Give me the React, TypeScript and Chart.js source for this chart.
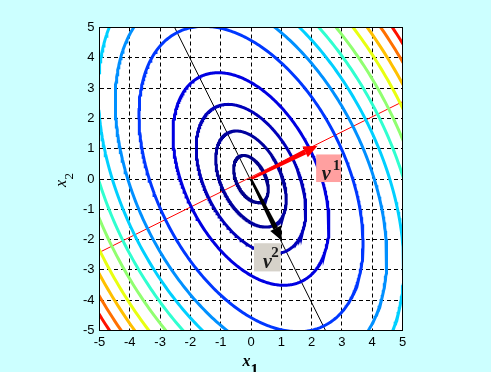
import React, { useEffect, useRef } from 'react';
import { Chart, registerables } from 'chart.js';

Chart.register(...registerables);

// ---- data ----
const axisTicks = [-5, -4, -3, -2, -1, 0, 1, 2, 3, 4, 5];
// contour levels of f(x) = x' A x, A having eigenvalues 3 (along v1) and 1 (along v2)
const contourLevels = [0.7, 2.9, 7.0, 14.2, 29.3, 43, 54.5, 66, 78, 91.5, 104, 117, 129];
const contourColors = [
  '#00008c', '#00009e', '#0000ba', '#0000e2', '#0038ff', '#0090ff', '#00d0ff',
  '#30ffd0', '#90ff70', '#e8ff10', '#ffc000', '#ff7000', '#ff1000',
];
const eigenvalues = [3, 1];
const eigenvector1 = [2, 1];
const eigenvector2 = [1, -2];
const redLineEnds = [[-5, -2.42], [5, 2.55]];
const blackLineEnds = [[-2.52, 5], [2.46, -5]];
const arrow1Tip = [2.2, 1.1];
const arrow2Tip = [1.02, -2.04];
const labelTexts = ['ν', 'ν'];
const labelSupers = ['1', '2'];

// ---- annotation placement (data coords) & styles ----
const labelBoxes = [
  { x0: 2.15, x1: 2.97, y0: 0.81, y1: -0.1, fill: '#ffa0a0', nuDx: 5.7, nuDy: -1.7, supDx: 16.7, supDy: 15.3 },
  { x0: 0.1, x1: 0.98, y0: -2.12, y1: -3.05, fill: '#d6d2ca', nuDx: 9.0, nuDy: -3.3, supDx: 17.3, supDy: 14.0 },
];

function unit(v: number[]) {
  const l = Math.hypot(v[0], v[1]);
  return [v[0] / l, v[1] / l];
}

function ellipsePoints(level: number) {
  const u1 = unit(eigenvector1);
  const u2 = unit(eigenvector2);
  const a1 = Math.sqrt(level / eigenvalues[0]);
  const a2 = Math.sqrt(level / eigenvalues[1]);
  const pts: { x: number; y: number }[] = [];
  const N = 400;
  for (let i = 0; i <= N; i++) {
    const t = (i / N) * Math.PI * 2;
    const c = Math.cos(t) * a1;
    const s = Math.sin(t) * a2;
    pts.push({ x: c * u1[0] + s * u2[0], y: c * u1[1] + s * u2[1] });
  }
  return pts;
}

function drawArrow(ctx: CanvasRenderingContext2D, x0: number, y0: number, x1: number, y1: number, color: string) {
  const dx = x1 - x0, dy = y1 - y0;
  const L = Math.hypot(dx, dy);
  const ux = dx / L, uy = dy / L;
  const px = -uy, py = ux;
  const headLen = 14, headHalf = 6, w0 = 1.1, w1 = 2.6;
  const bx = x1 - ux * headLen, by = y1 - uy * headLen;
  ctx.save();
  ctx.fillStyle = color;
  ctx.beginPath();
  ctx.moveTo(x0 + px * w0, y0 + py * w0);
  ctx.lineTo(bx + px * w1, by + py * w1);
  ctx.lineTo(bx - px * w1, by - py * w1);
  ctx.lineTo(x0 - px * w0, y0 - py * w0);
  ctx.closePath();
  ctx.fill();
  ctx.beginPath();
  ctx.moveTo(x1, y1);
  ctx.lineTo(bx + px * headHalf, by + py * headHalf);
  ctx.lineTo(bx - px * headHalf, by - py * headHalf);
  ctx.closePath();
  ctx.fill();
  ctx.restore();
}

const decorPlugin = {
  id: 'decor',
  beforeDraw(chart: any) {
    const { ctx, chartArea: a } = chart;
    ctx.save();
    ctx.fillStyle = '#ffffff';
    ctx.fillRect(a.left, a.top, a.right - a.left, a.bottom - a.top);
    ctx.restore();
  },
  afterDatasetsDraw(chart: any) {
    const { ctx, chartArea: a, scales } = chart;
    const X = (v: number) => scales.x.getPixelForValue(v);
    const Y = (v: number) => scales.y.getPixelForValue(v);
    drawArrow(ctx, X(0), Y(0), X(arrow1Tip[0]), Y(arrow1Tip[1]), '#ff0000');
    drawArrow(ctx, X(0), Y(0), X(arrow2Tip[0]), Y(arrow2Tip[1]), '#000000');

    labelBoxes.forEach((b, i) => {
      const l = X(b.x0), r = X(b.x1), t = Y(b.y0), bt = Y(b.y1);
      ctx.save();
      ctx.fillStyle = b.fill;
      ctx.fillRect(l, t, r - l, bt - t);
      ctx.fillStyle = '#1a1a1a';
      ctx.textBaseline = 'alphabetic';
      ctx.textAlign = 'left';
      ctx.font = "bold italic 20px 'Liberation Serif', 'DejaVu Serif', serif";
      ctx.fillText(labelTexts[i], l + b.nuDx, bt + b.nuDy);
      ctx.font = "bold 15px 'Liberation Serif', 'DejaVu Serif', serif";
      ctx.fillText(labelSupers[i], l + b.supDx, t + b.supDy);
      ctx.restore();
    });

    ctx.save();
    ctx.strokeStyle = '#000';
    ctx.lineWidth = 1;
    ctx.strokeRect(a.left, a.top, a.right - a.left, a.bottom - a.top);
    ctx.restore();
  },
  afterDraw(chart: any) {
    const { ctx } = chart;
    ctx.save();
    ctx.fillStyle = '#000';
    ctx.textAlign = 'left';
    ctx.textBaseline = 'alphabetic';
    // x title
    ctx.font = "bold italic 16px 'Liberation Serif', 'DejaVu Serif', serif";
    ctx.fillText('x', 242.5, 366);
    ctx.font = "bold 16px 'Liberation Serif', 'DejaVu Serif', serif";
    ctx.fillText('1', 250.5, 375);
    // y title
    ctx.translate(66, 187);
    ctx.rotate(-Math.PI / 2);
    ctx.font = "italic 16px 'Liberation Serif', 'DejaVu Serif', serif";
    ctx.fillText('x', 0, 0);
    ctx.font = "13px 'Liberation Serif', 'DejaVu Serif', serif";
    ctx.fillText('2', 7.5, 7);
    ctx.restore();
  },
};

export default function App() {
  const ref = useRef<HTMLCanvasElement>(null);
  useEffect(() => {
    document.body.style.margin = '0';
    const datasets: any[] = contourLevels.map((k, i) => ({
      data: ellipsePoints(k),
      borderColor: contourColors[i],
      backgroundColor: contourColors[i],
      borderWidth: 3,
      showLine: true,
      pointRadius: 0,
      tension: 0,
      clip: 0,
    }));
    datasets.push({
      data: redLineEnds.map(([x, y]) => ({ x, y })),
      borderColor: '#ff0000',
      borderWidth: 1,
      showLine: true,
      pointRadius: 0,
      clip: 0,
    });
    datasets.push({
      data: blackLineEnds.map(([x, y]) => ({ x, y })),
      borderColor: '#000000',
      borderWidth: 1,
      showLine: true,
      pointRadius: 0,
      clip: 0,
    });
    const tickFont = { family: "'Liberation Sans', Arial, sans-serif", size: 13 };
    const chart = new Chart(ref.current as HTMLCanvasElement, {
      type: 'scatter',
      data: { datasets },
      options: {
        animation: false,
        responsive: false,
        events: [],
        layout: { padding: { top: 27.5, right: 88.5, left: 0, bottom: 0 } },
        plugins: { legend: { display: false }, tooltip: { enabled: false } },
        scales: {
          x: {
            type: 'linear',
            min: axisTicks[0],
            max: axisTicks[axisTicks.length - 1],
            afterFit: (s: any) => { s.height = 41.5; },
            afterBuildTicks: (s: any) => { s.ticks = axisTicks.map((v) => ({ value: v })); },
            ticks: { color: '#000', font: tickFont, padding: 4, callback: (v: any) => String(v) },
            grid: { color: '#000', lineWidth: 1, drawTicks: false },
            border: { display: false, dash: [4, 3] },
          },
          y: {
            type: 'linear',
            min: axisTicks[0],
            max: axisTicks[axisTicks.length - 1],
            afterFit: (s: any) => { s.width = 99.5; },
            afterBuildTicks: (s: any) => { s.ticks = axisTicks.map((v) => ({ value: v })); },
            ticks: { color: '#000', font: tickFont, padding: 5, callback: (v: any) => String(v) },
            grid: { color: '#000', lineWidth: 1, drawTicks: false },
            border: { display: false, dash: [4, 3] },
          },
        },
      },
      plugins: [decorPlugin],
    } as any);
    return () => chart.destroy();
  }, []);
  return (
    <div style={{ width: 491, height: 372, background: '#ccffff' }}>
      <canvas ref={ref} width={491} height={372} style={{ display: 'block' }} />
    </div>
  );
}
